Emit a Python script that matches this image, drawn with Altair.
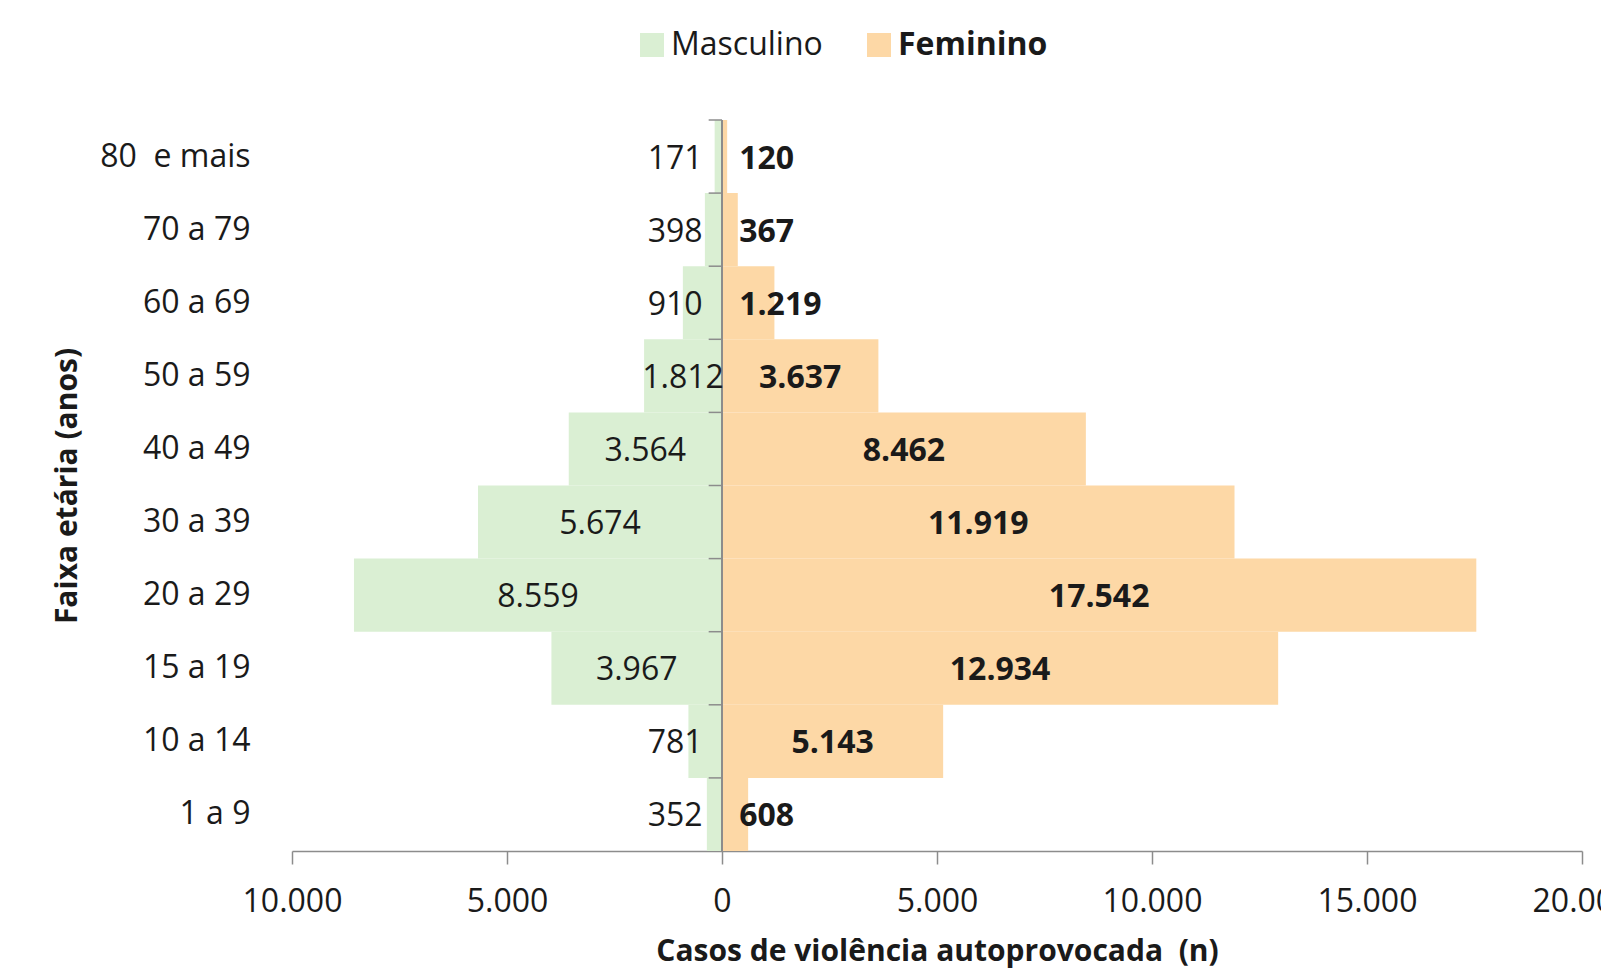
import altair as alt
import pandas as pd

# ---- data ----
ages = ["80\u00a0 e mais", "70 a 79", "60 a 69", "50 a 59", "40 a 49",
        "30 a 39", "20 a 29", "15 a 19", "10 a 14", "1 a 9"]
masculino = [171, 398, 910, 1812, 3564, 5674, 8559, 3967, 781, 352]
feminino = [120, 367, 1219, 3637, 8462, 11919, 17542, 12934, 5143, 608]
sexos = ["Masculino", "Feminino"]
x_ticks = [-10000, -5000, 0, 5000, 10000, 15000, 20000]

GREEN = "#DAEFD3"
PEACH = "#FDD8A6"
AXIS_GRAY = "#8c8c8c"
TXT = "#1a1a1a"
FONT = "Open Sans"

rows = []
for a, m, f in zip(ages, masculino, feminino):
    rows.append({"age": a, "sexo": "Masculino", "n": m, "x": -m})
    rows.append({"age": a, "sexo": "Feminino", "n": f, "x": f})
df = pd.DataFrame(rows)

W, H = 1290, 731

xscale = alt.Scale(domain=[-10000, 20000], nice=False)
yscale = alt.Scale(domain=ages, paddingInner=0, paddingOuter=0)

x_axis = alt.Axis(
    values=x_ticks,
    labelExpr="replace(format(abs(datum.value), ','), ',', '.')",
    title="Casos de violência autoprovocada\u00a0 (n)",
    titleFontSize=30, titleFontWeight="bold", titleColor=TXT, titleFont=FONT,
    titleX=W / 2, titleY=109, titleBaseline="alphabetic",
    labelFontSize=32, labelColor=TXT, labelFont=FONT, labelPadding=22,
    labelFlush=False, labelOverlap=False,
    tickSize=13, tickColor=AXIS_GRAY, tickWidth=1.5,
    domainColor=AXIS_GRAY, domainWidth=1.5, grid=False,
)
y_axis = alt.Axis(
    title="Faixa etária (anos)",
    titleFontSize=30, titleFontWeight="bold", titleColor=TXT, titleFont=FONT,
    titleX=-225, titleY=H / 2, titleAngle=270, titleBaseline="middle", titleAlign="center",
    labelFontSize=32, labelColor=TXT, labelFont=FONT, labelPadding=42, labelAlign="right",
    ticks=False, tickSize=0, domain=False, grid=False,
)

X = alt.X("x:Q", scale=xscale, axis=x_axis)
Y = alt.Y("age:N", scale=yscale, sort=ages, axis=y_axis)

base = alt.Chart(df)

bars = base.mark_bar(strokeWidth=0).encode(
    x=X, y=Y,
    color=alt.Color(
        "sexo:N",
        scale=alt.Scale(domain=sexos, range=[GREEN, PEACH]),
        legend=alt.Legend(
            orient="none", legendX=344, legendY=-91, direction="horizontal",
            title=None, symbolType="square", symbolSize=576, symbolStrokeWidth=0,
            symbolOpacity=1, labelFontSize=32, labelFont=FONT, labelColor=TXT,
            labelFontWeight=alt.ExprRef("datum.value === 'Feminino' ? 'bold' : 'normal'"),
            labelOffset=3, columnPadding=40, labelLimit=400, padding=0,
        ),
    ),
)

lbl = "replace(format(datum.n, ','), ',', '.')"

def text_layer(filt, xexpr, align, weight):
    return (
        base.transform_filter(filt)
        .transform_calculate(lbl=lbl, x=xexpr)
        .mark_text(align=align, baseline="middle", fontSize=32, font=FONT,
                   fontWeight=weight, color=TXT, dy=2)
        .encode(x=X, y=Y, text="lbl:N")
    )

t_m_big = text_layer("datum.sexo === 'Masculino' && datum.n >= 1500", "datum.x / 2", "center", "normal")
t_m_small = text_layer("datum.sexo === 'Masculino' && datum.n < 1500", "-450", "right", "normal")
t_f_big = text_layer("datum.sexo === 'Feminino' && datum.n >= 1500", "datum.x / 2", "center", "bold")
t_f_small = text_layer("datum.sexo === 'Feminino' && datum.n < 1500", "400", "left", "bold")

# vertical category axis line at zero, with tick marks at the band edges
zero_line = alt.Chart(df).mark_rule(color=AXIS_GRAY, strokeWidth=1.5).encode(
    x=alt.datum(0, scale=xscale)
)
edge_ticks = (
    base.transform_filter("datum.sexo === 'Masculino'")
    .mark_rule(color=AXIS_GRAY, strokeWidth=1.5)
    .encode(x=alt.datum(-310), x2=alt.datum(0), y=alt.Y("age:N", scale=yscale, sort=ages, bandPosition=0))
)

chart = (
    alt.layer(bars, zero_line, edge_ticks, t_m_big, t_m_small, t_f_big, t_f_small)
    .properties(
        width=W, height=H,
        autosize=alt.AutoSizeParams(type="none"),
        padding={"left": 284, "top": 112, "right": 19, "bottom": 120},
        background="white",
    )
    .configure(font=FONT)
    .configure_view(stroke=None, strokeWidth=0)
)

chart.save("out.html", embed_options={"renderer": "svg", "actions": False})
